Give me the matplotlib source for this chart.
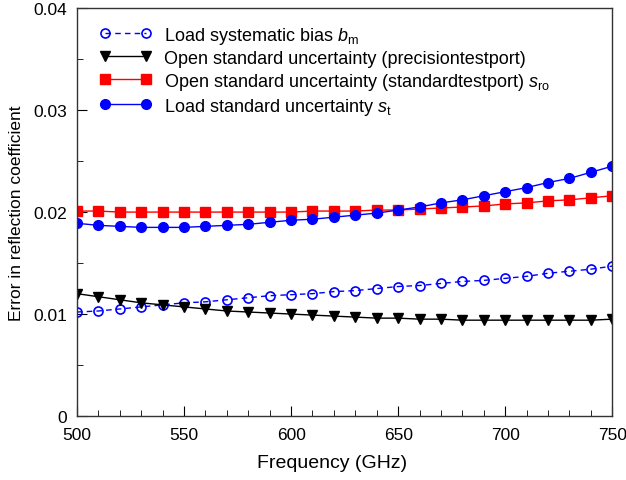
import numpy as np
import matplotlib
matplotlib.use('Agg')
import matplotlib.pyplot as plt
from matplotlib.ticker import MultipleLocator, FuncFormatter

plt.rcParams['font.family'] = ['Liberation Sans', 'DejaVu Sans']
plt.rcParams['mathtext.fontset'] = 'custom'
plt.rcParams['mathtext.rm'] = 'Liberation Sans'
plt.rcParams['mathtext.it'] = 'Liberation Sans:italic'

# Frequency points (GHz)
freq = list(range(500, 751, 10))

# Load systematic bias b_m
bias_load = [0.0102, 0.0103, 0.0105, 0.0107, 0.0109, 0.0111, 0.0112, 0.0114, 0.0116, 0.0118,
             0.0119, 0.0120, 0.0122, 0.0123, 0.0125, 0.0127, 0.0128, 0.0130, 0.0132, 0.0133,
             0.0135, 0.0137, 0.0140, 0.0142, 0.0144, 0.0147]

# Open standard uncertainty (precision test port)
open_prec = [0.0120, 0.0117, 0.0114, 0.0111, 0.0109, 0.0107, 0.0105, 0.0103, 0.0102, 0.0101,
             0.0100, 0.0099, 0.0098, 0.0097, 0.0096, 0.0096, 0.0095, 0.0095, 0.0094, 0.0094,
             0.0094, 0.0094, 0.0094, 0.0094, 0.0094, 0.0095]

# Open standard uncertainty (standard test port) s_ro
open_std = [0.0201, 0.0201, 0.0200, 0.0200, 0.0200, 0.0200, 0.0200, 0.0200, 0.0200, 0.0200,
            0.0200, 0.0201, 0.0201, 0.0201, 0.0202, 0.0202, 0.0203, 0.0204, 0.0205, 0.0206,
            0.0208, 0.0209, 0.0211, 0.0212, 0.0214, 0.0216]

# Load standard uncertainty s_t
load_std = [0.0189, 0.0187, 0.0186, 0.0185, 0.0185, 0.0185, 0.0186, 0.0187, 0.0188, 0.0190,
            0.0192, 0.0193, 0.0195, 0.0197, 0.0199, 0.0202, 0.0205, 0.0209, 0.0212, 0.0216,
            0.0220, 0.0224, 0.0229, 0.0233, 0.0239, 0.0245]

labels = [r'Load systematic bias $b_\mathrm{m}$',
          'Open standard uncertainty (precisiontestport)',
          r'Open standard uncertainty (standardtestport) $s_\mathrm{ro}$',
          r'Load standard uncertainty $s_\mathrm{t}$']

fig = plt.figure(figsize=(6.26, 4.81), dpi=100)
ax = fig.add_axes([0.123, 0.133, 0.855, 0.848])

ax.plot(freq, bias_load, color='blue', linestyle='--', linewidth=1, marker='o',
        markersize=6.5, markerfacecolor='none', markeredgecolor='blue',
        markeredgewidth=1.2, dashes=(4, 3), label=labels[0])
ax.plot(freq, open_prec, color='black', linewidth=1, marker='v', markersize=7.5,
        label=labels[1])
ax.plot(freq, open_std, color='red', linewidth=1, marker='s', markersize=6.5,
        label=labels[2])
ax.plot(freq, load_std, color='blue', linewidth=1, marker='o', markersize=7,
        label=labels[3])

ax.set_xlim(500, 750)
ax.set_ylim(0, 0.04)
ax.xaxis.set_major_locator(MultipleLocator(50))
ax.xaxis.set_minor_locator(MultipleLocator(10))
ax.yaxis.set_major_locator(MultipleLocator(0.01))
ax.yaxis.set_minor_locator(MultipleLocator(0.005))
ax.yaxis.set_major_formatter(FuncFormatter(lambda v, p: '0' if v == 0 else f'{v:g}'))

ax.tick_params(which='both', direction='in', top=False, right=False, labelsize=12.5)
ax.tick_params(which='major', length=7)
ax.tick_params(which='minor', length=4)
ax.tick_params(axis='x', pad=8)
ax.tick_params(axis='y', pad=7)
for s in ax.spines.values():
    s.set_linewidth(1)
    s.set_color('#333333')

ax.set_xlabel('Frequency (GHz)', fontsize=14)
ax.xaxis.set_label_coords(0.477, -0.093)
ax.set_ylabel('Error in reflection coefficient', fontsize=12.5, labelpad=7)

ax.legend(loc='upper left', frameon=False, fontsize=13, numpoints=2,
          handlelength=2.9, handletextpad=0.7, labelspacing=0.22,
          borderaxespad=0.4, bbox_to_anchor=(0.015, 0.995))

fig.savefig('out.png', dpi=100)
